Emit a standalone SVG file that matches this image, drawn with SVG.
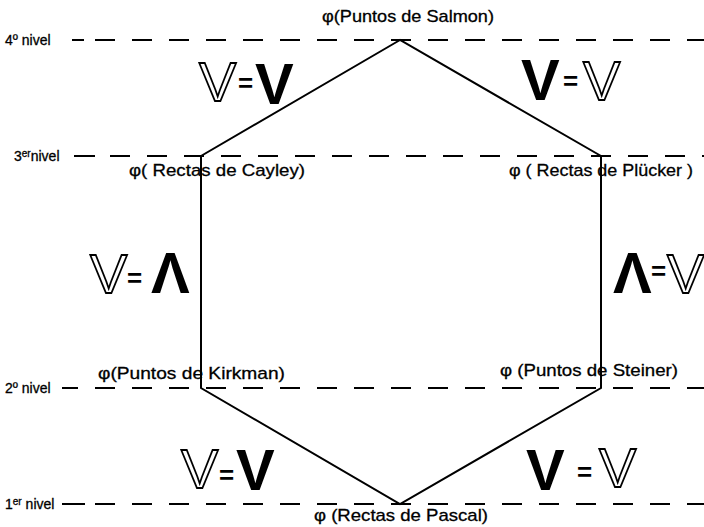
<svg xmlns="http://www.w3.org/2000/svg" width="704" height="527" viewBox="0 0 704 527">
<style>
.lbl{font-family:"Liberation Sans",Arial,sans-serif;font-size:17px;fill:#000;stroke:#000;stroke-width:0.3}
.lev{font-family:"Liberation Sans",Arial,sans-serif;font-size:14px;fill:#000;stroke:#000;stroke-width:0.3}
.dash{stroke:#000;stroke-width:2;stroke-dasharray:20 17;fill:none}
.solid{stroke:#000;stroke-width:2;fill:none}
.bv{font-family:"Liberation Sans",Arial,sans-serif;font-size:58px;font-weight:bold;fill:#000}
.ov{font-family:"Liberation Sans",Arial,sans-serif;font-size:56px;fill:#fff;stroke:#000;stroke-width:1.8}
.eq{font-family:"Liberation Sans",Arial,sans-serif;font-size:26px;font-weight:bold;fill:#000}
</style>
<rect width="704" height="527" fill="#fff"/>
<g id="levels">
  <text class="lev" x="5" y="45">4º nivel</text>
  <line class="solid" x1="72" y1="40" x2="84" y2="40" stroke-width="1.5"/>
  <text class="lev" x="14" y="161">3<tspan font-size="10" dy="-4">er</tspan><tspan dy="4">nivel</tspan></text>
  <line class="solid" x1="74" y1="156" x2="95" y2="156"/>
  <text class="lev" x="5" y="393">2º nivel</text>
  <line class="solid" x1="62" y1="388" x2="78" y2="388"/>
  <text class="lev" x="5" y="509">1<tspan font-size="10" dy="-4">er</tspan><tspan dy="4"> nivel</tspan></text>
  <line class="solid" x1="62" y1="504" x2="85" y2="504"/>
</g>
<g id="connectors">
  <line class="dash" x1="95" y1="40" x2="704" y2="40"/>
  <line class="dash" x1="110" y1="156" x2="704" y2="156"/>
  <line class="dash" x1="95" y1="388" x2="704" y2="388"/>
  <line class="dash" x1="95" y1="504" x2="704" y2="504"/>
  <polygon class="solid" points="400,40 201,156 201,388 400,504 601,388 601,156"/>
</g>
<g id="salmon"><text class="lbl" x="322" y="22" textLength="172" lengthAdjust="spacingAndGlyphs">φ(Puntos de Salmon)</text></g>
<g id="cayley"><text class="lbl" x="129" y="176" textLength="176" lengthAdjust="spacingAndGlyphs">φ( Rectas de Cayley)</text></g>
<g id="plucker"><text class="lbl" x="509" y="176" textLength="184" lengthAdjust="spacingAndGlyphs">φ ( Rectas de Plücker )</text></g>
<g id="kirkman"><text class="lbl" x="98" y="379" textLength="187" lengthAdjust="spacingAndGlyphs">φ(Puntos de Kirkman)</text></g>
<g id="steiner"><text class="lbl" x="500" y="376" textLength="178" lengthAdjust="spacingAndGlyphs">φ (Puntos de Steiner)</text></g>
<g id="pascal"><text class="lbl" x="314" y="521" textLength="174" lengthAdjust="spacingAndGlyphs">φ (Rectas de Pascal)</text></g>
<g id="rel-top-left">
  <text class="ov" x="199" y="101">V</text><text class="eq" x="238" y="92">=</text><text class="bv" x="255" y="104">V</text>
</g>
<g id="rel-top-right">
  <text class="bv" x="521" y="100">V</text><text class="eq" x="563" y="90">=</text><text class="ov" x="583" y="100">V</text>
</g>
<g id="rel-mid-left">
  <text class="ov" x="90" y="293">V</text><text class="eq" x="127" y="287">=</text><text class="bv" x="151" y="293">Λ</text>
</g>
<g id="rel-mid-right">
  <text class="bv" x="613" y="293">Λ</text><text class="eq" x="651" y="280">=</text><text class="ov" x="667" y="293">V</text>
</g>
<g id="rel-bot-left">
  <text class="ov" x="181" y="488">V</text><text class="eq" x="219" y="484">=</text><text class="bv" x="236" y="490">V</text>
</g>
<g id="rel-bot-right">
  <text class="bv" x="526" y="490">V</text><text class="eq" x="577" y="481">=</text><text class="ov" x="599" y="487">V</text>
</g>
</svg>
